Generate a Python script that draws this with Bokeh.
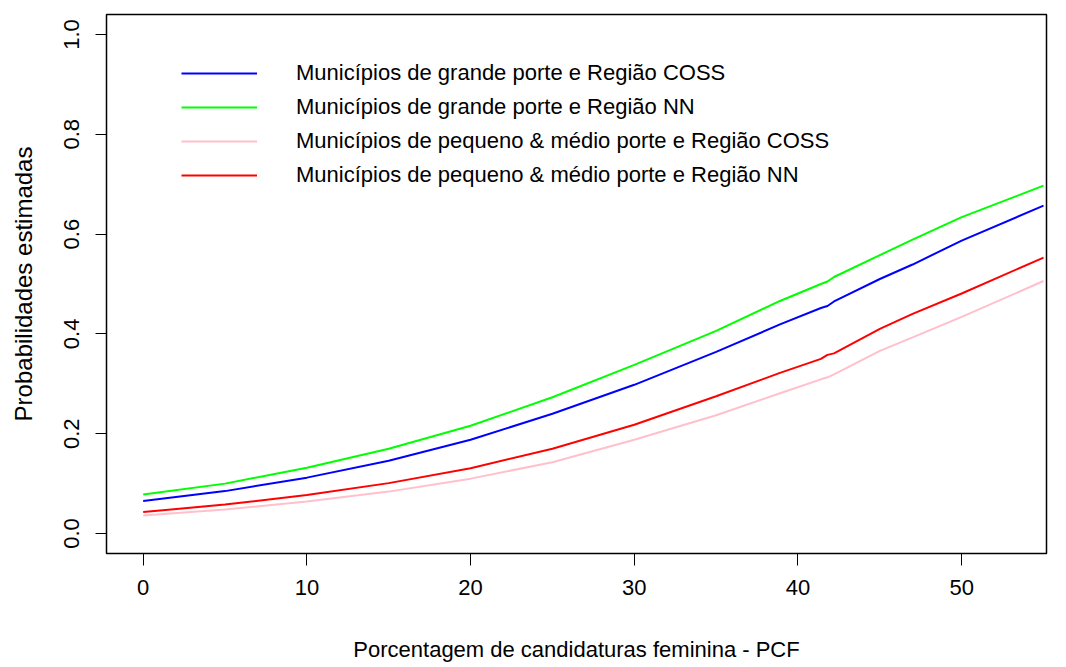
from bokeh.plotting import figure
from bokeh.models import Legend, LegendItem, FixedTicker, Range1d
from bokeh.embed import file_html
from bokeh.resources import INLINE

# Data
pcf = [0, 5, 10, 15, 20, 25, 30, 35, 38.9, 41.4, 41.8, 42.2, 45, 47.0, 50, 55]

grande_coss = [0.065, 0.085, 0.112, 0.146, 0.188, 0.240, 0.298, 0.364, 0.419, 0.452, 0.456, 0.465, 0.510, 0.539, 0.587, 0.657]
grande_nn = [0.078, 0.100, 0.132, 0.170, 0.216, 0.273, 0.338, 0.406, 0.466, 0.500, 0.505, 0.514, 0.558, 0.589, 0.634, 0.697]
pequeno_coss = [0.036, 0.048, 0.064, 0.084, 0.110, 0.143, 0.188, 0.237, 0.281, 0.309, 0.313, 0.319, 0.366, 0.393, 0.434, 0.506]
pequeno_nn = [0.043, 0.058, 0.077, 0.101, 0.131, 0.170, 0.218, 0.275, 0.322, 0.350, 0.358, 0.361, 0.410, 0.440, 0.481, 0.553]

series_names = [
    "Municípios de grande porte e Região COSS",
    "Municípios de grande porte e Região NN",
    "Municípios de pequeno & médio porte e Região COSS",
    "Municípios de pequeno & médio porte e Região NN",
]
series_values = [grande_coss, grande_nn, pequeno_coss, pequeno_nn]
series_colors = ["#0000FF", "#00FF00", "#FFC0CB", "#FF0000"]

x_ticks = [0, 10, 20, 30, 40, 50]
y_ticks = [0.0, 0.2, 0.4, 0.6, 0.8, 1.0]
y_tick_labels = ["0.0", "0.2", "0.4", "0.6", "0.8", "1.0"]

FONT = "Liberation Sans"

p = figure(width=1066, height=667, output_backend="svg", toolbar_location=None,
           x_range=Range1d(-2.24, 55.18), y_range=Range1d(-0.04, 1.04),
           min_border_left=106, min_border_right=20, min_border_top=14, min_border_bottom=114)

p.xgrid.visible = False
p.ygrid.visible = False
p.outline_line_color = "black"
p.outline_line_width = 1.5
p.background_fill_color = "white"
p.border_fill_color = "white"

items = []
for name, vals, col in zip(series_names, series_values, series_colors):
    r = p.line(pcf, vals, line_color=col, line_width=2)
    items.append(LegendItem(label=name, renderers=[r]))

legend = Legend(items=items, location=(75, 361), border_line_color=None,
                background_fill_alpha=0, padding=0, margin=0, spacing=0,
                glyph_width=76, glyph_height=34, label_height=34, label_standoff=39,
                label_text_font=FONT, label_text_font_size="22px", label_text_color="black")
p.add_layout(legend)

# X axis
p.xaxis.ticker = FixedTicker(ticks=x_ticks)
p.xaxis.axis_label = "Porcentagem de candidaturas feminina - PCF"
p.xaxis.axis_line_color = None
p.xaxis.major_tick_out = 12
p.xaxis.major_tick_in = 0
p.xaxis.minor_tick_line_color = None
p.xaxis.major_tick_line_color = "black"
p.xaxis.major_label_standoff = 14
p.xaxis.axis_label_standoff = 39
p.xaxis.major_label_text_font = FONT
p.xaxis.major_label_text_font_size = "22px"
p.xaxis.axis_label_text_font = FONT
p.xaxis.axis_label_text_font_size = "22px"
p.xaxis.axis_label_text_font_style = "normal"
p.xaxis.major_label_text_color = "black"
p.xaxis.axis_label_text_color = "black"

# Y axis
p.yaxis.ticker = FixedTicker(ticks=y_ticks)
p.yaxis.major_label_overrides = {t: l for t, l in zip(y_ticks, y_tick_labels)}
p.yaxis.axis_label = "Probabilidades estimadas"
p.yaxis.axis_line_color = None
p.yaxis.major_tick_out = 11
p.yaxis.major_tick_in = 0
p.yaxis.minor_tick_line_color = None
p.yaxis.major_tick_line_color = "black"
p.yaxis.major_label_orientation = "vertical"
p.yaxis.major_label_standoff = 16
p.yaxis.axis_label_standoff = 25
p.yaxis.major_label_text_font = FONT
p.yaxis.major_label_text_font_size = "22px"
p.yaxis.axis_label_text_font = FONT
p.yaxis.axis_label_text_font_size = "24px"
p.yaxis.axis_label_text_font_style = "normal"
p.yaxis.major_label_text_color = "black"
p.yaxis.axis_label_text_color = "black"

open("out.html", "w").write(file_html(p, INLINE))
